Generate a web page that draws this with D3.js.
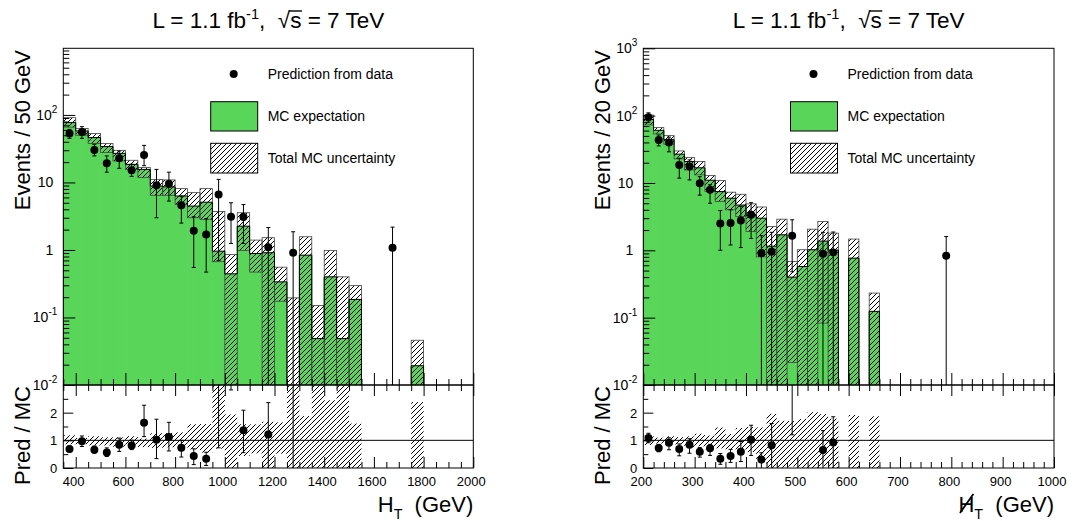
<!DOCTYPE html>
<html><head><meta charset="utf-8">
<script src="https://cdn.jsdelivr.net/npm/d3@7"></script>
<style>
body{margin:0;background:#fff}
svg{display:block}
text{font-family:"Liberation Sans",Arial,Helvetica,sans-serif;fill:#000}
</style>
</head><body>
<svg id="c" width="1072" height="521"></svg>
<script>
// ---------------- DATA : H_T (50 GeV bins, lower edges) ----------------
const htBins   = [350,400,450,500,550,600,650,700,750,800,850,900,950,1000,1050,1100,1150,1200,1250,1300,1350,1400,1450,1500,1550,1600,1650,1700,1750,1800];
const htMC     = [77,57.9,46.2,34,27,18.5,15.6,8.85,8.6,6.3,4.47,5.1,0.96,0.443,2.25,0.887,0.91,0.337,0.002,0.837,0.0487,0.4,0.0487,0.185,0,0,0,0,0.0193,0];
const htMCLo   = [66,50,37.7,27.7,20.8,15.6,11.8,6.45,6.45,4.73,3.0,2.84,0.67,0,0.98,0.47,0,0.174,0,0,0,0,0,0,0,0,0,0,0,0];
const htMCHi   = [91,62.8,53,37.7,29.9,21.3,16.6,11.1,10.9,8.1,7.06,8.1,3.7,0.857,3.56,1.4,1.52,0.556,0.195,1.57,0.15,0.98,0.4,0.297,0,0,0,0,0.046,0];
const htData   = [53,56,30.3,19.2,22.8,15.1,25.5,9.05,9.6,4.6,1.93,1.7,6.65,3.1,3.07,null,1.1,null,0.91,null,null,null,null,null,null,null,1.08,null,null,null];
const htDataLo = [45,45,24.7,14.2,16.2,12.3,17.7,3.0,5.3,2.5,0.55,0.47,0.7,1.25,1.25,null,0,null,0,null,null,null,null,null,null,null,0,null,null,null];
const htDataHi = [61,67,36.7,24.7,29.2,18.6,35.4,15.6,14.2,6.3,3.1,2.9,11.1,5.0,4.7,null,2.15,null,1.86,null,null,null,null,null,null,null,2.18,null,null,null];
const htTickLabels = [400,600,800,1000,1200,1400,1600,1800,2000];

// ---------------- DATA : missing H_T (20 GeV bins, lower edges) ----------------
const mhtBins   = [200,220,240,260,280,300,320,340,360,380,400,420,440,460,480,500,520,540,560,580,600,620,640,660,680,700,720,740,760,780,800];
const mhtMC     = [87.6,60.5,44,26.8,20.8,16.8,11,7.45,5.94,4.7,3.3,3.0,1.15,1.7,0.4,0.575,1.02,1.37,1.01,0,0.766,0,0.124,0,0,0,0,0,0,0,0];
const mhtMCLo   = [72.8,53.5,37.7,22.8,15.6,13.2,7.45,5.3,4.0,3.16,1.9,0.8,0,0,0.0216,0,0,0.083,0,0,0,0,0,0,0,0,0,0,0,0,0];
const mhtMCHi   = [102,66.4,50.5,29.9,23.8,20.8,12.9,10.9,7.3,6.8,4.9,4.4,2.25,2.9,0.68,1.02,2.06,2.67,1.8,0,1.47,0,0.232,0,0,0,0,0,0,0,0];
const mhtData   = [94.6,43.6,40,18.5,17.5,9.9,7.9,2.5,2.55,2.77,3.37,0.91,0.95,null,1.64,null,null,0.89,0.93,null,null,null,null,null,null,null,null,null,null,0.83,null];
const mhtDataLo = [80,35.5,29,11.8,11.1,6.6,5.0,1.0,1.2,1.1,1.5,0,0,null,0.48,null,null,0,0,null,null,null,null,null,null,null,null,null,null,0,null];
const mhtDataHi = [110,51.6,48,23.3,22,12.4,9.4,3.9,4.0,4.5,5.1,1.65,1.85,null,2.84,null,null,1.85,1.87,null,null,null,null,null,null,null,null,null,null,1.6,null];
const mhtTickLabels = [200,300,400,500,600,700,800,900,1000];

const ratioTickLabels = [0,1,2];
const legendLabels = ["Prediction from data","MC expectation","Total MC uncertainty"];
const titleRuns = [{t:"L = 1.1 fb"},{t:"-1",sup:true},{t:",  "},{t:"\u221A"},{t:"s"},{t:" = 7 TeV"}];

// ---------------- LAYOUT ----------------
const GREEN = "#59d559";
const mainTop = 48.3, mainBot = 385, ratBot = 468;
const svg = d3.select("#c");
const defs = svg.append("defs");
const pat = defs.append("pattern").attr("id","hatch").attr("patternUnits","userSpaceOnUse")
  .attr("width",5).attr("height",5);
pat.append("path").attr("d","M-1,1 L1,-1 M0,5 L5,0 M4,6 L6,4")
  .attr("stroke","#000").attr("stroke-width",1).attr("fill","none");

function runsText(parent, runs, x, y, size, anchor){
  const t = parent.append("text").attr("x",x).attr("y",y).attr("font-size",size)
    .attr("text-anchor",anchor).style("white-space","pre");
  let shift = 0;
  runs.forEach(r=>{
    const target = r.sup ? -size*0.42 : (r.sub ? size*0.3 : 0);
    const ts = t.append("tspan").text(r.t).attr("dy", target-shift);
    if(r.sup||r.sub) ts.attr("font-size", size*0.65);
    shift = target;
  });
  return t;
}

function drawPanel(cfg){
  const {id,x0,x1,xDomain,binW,yMax,bins,mc,lo,hi,data,dlo,dhi,xTicks,minorStep,yTitle,legX,slash} = cfg;
  const x = d3.scaleLinear().domain(xDomain).range([x0,x1]);
  const y = d3.scaleLog().domain([0.01,yMax]).range([mainBot,mainTop]);
  const yr = d3.scaleLinear().domain([0,3]).range([ratBot,mainBot]);
  const yc = v => (v>0 ? Math.min(y(v), mainBot+2) : mainBot+2);
  const g = svg.append("g");

  defs.append("clipPath").attr("id","cm"+id).append("rect")
    .attr("x",x0).attr("y",mainTop).attr("width",x1-x0).attr("height",mainBot-mainTop);
  defs.append("clipPath").attr("id","cr"+id).append("rect")
    .attr("x",x0).attr("y",mainBot).attr("width",x1-x0).attr("height",ratBot-mainBot);

  const gm = g.append("g").attr("clip-path",`url(#cm${id})`);
  const idx = bins.map((b,i)=>i);
  // green MC fill (slight overlap to avoid seams)
  gm.selectAll("rect.mc").data(idx.filter(i=>mc[i]>0.01)).join("rect").attr("class","mc")
    .attr("x",i=>x(bins[i])-0.3).attr("width",i=>x(bins[i]+binW)-x(bins[i])+0.6)
    .attr("y",i=>y(mc[i])).attr("height",i=>mainBot-y(mc[i])+2).attr("fill",GREEN);
  // hatched uncertainty band
  gm.selectAll("rect.band").data(idx.filter(i=>hi[i]>0)).join("rect").attr("class","band")
    .attr("x",i=>x(bins[i])).attr("width",i=>x(bins[i]+binW)-x(bins[i]))
    .attr("y",i=>y(hi[i])).attr("height",i=>yc(lo[i])-y(hi[i]))
    .attr("fill","url(#hatch)").attr("stroke","#444").attr("stroke-width",0.8);
  // MC outline
  let p = `M${x(bins[0])},${mainBot+2}`;
  idx.forEach(i=>{ p += `L${x(bins[i])},${yc(mc[i])}L${x(bins[i]+binW)},${yc(mc[i])}`; });
  p += `L${x(bins[bins.length-1]+binW)},${mainBot+2}`;
  gm.append("path").attr("d",p).attr("fill","none").attr("stroke","#000").attr("stroke-width",1);
  // data points
  const di = idx.filter(i=>data[i]!=null);
  di.forEach(i=>{
    const cx = x(bins[i]+binW/2);
    gm.append("line").attr("x1",cx).attr("x2",cx).attr("y1",yc(dlo[i])).attr("y2",y(dhi[i]))
      .attr("stroke","#000").attr("stroke-width",1);
    gm.append("line").attr("x1",cx-2).attr("x2",cx+2).attr("y1",y(dhi[i])).attr("y2",y(dhi[i])).attr("stroke","#000");
    if(dlo[i]>0.01) gm.append("line").attr("x1",cx-2).attr("x2",cx+2).attr("y1",y(dlo[i])).attr("y2",y(dlo[i])).attr("stroke","#000");
    gm.append("circle").attr("cx",cx).attr("cy",y(data[i])).attr("r",4).attr("fill","#000");
  });

  // ---- ratio panel ----
  const gr = g.append("g").attr("clip-path",`url(#cr${id})`);
  const clampR = v => Math.max(-0.1, Math.min(3.2, v));
  gr.selectAll("rect.rb").data(idx.filter(i=>mc[i]>0 && hi[i]>0)).join("rect").attr("class","rb")
    .attr("x",i=>x(bins[i])).attr("width",i=>x(bins[i]+binW)-x(bins[i]))
    .attr("y",i=>yr(clampR(hi[i]/mc[i])))
    .attr("height",i=>yr(clampR(lo[i]/mc[i]))-yr(clampR(hi[i]/mc[i])))
    .attr("fill","url(#hatch)");
  gr.append("line").attr("x1",x0).attr("x2",x1).attr("y1",yr(1)).attr("y2",yr(1))
    .attr("stroke","#000").attr("stroke-width",1);
  di.filter(i=>mc[i]>0).forEach(i=>{
    const cx = x(bins[i]+binW/2);
    const r = data[i]/mc[i], rl = dlo[i]/mc[i], rh = dhi[i]/mc[i];
    gr.append("line").attr("x1",cx).attr("x2",cx).attr("y1",yr(clampR(rl))).attr("y2",yr(clampR(rh)))
      .attr("stroke","#000").attr("stroke-width",1);
    if(rh<3) gr.append("line").attr("x1",cx-2).attr("x2",cx+2).attr("y1",yr(rh)).attr("y2",yr(rh)).attr("stroke","#000");
    if(rl>0.02) gr.append("line").attr("x1",cx-2).attr("x2",cx+2).attr("y1",yr(rl)).attr("y2",yr(rl)).attr("stroke","#000");
    if(r<3) gr.append("circle").attr("cx",cx).attr("cy",yr(r)).attr("r",4).attr("fill","#000");
  });

  // ---- axes ticks ----
  const minorX = d3.range(xDomain[0], xDomain[1]+0.001, minorStep).filter(v=>!xTicks.includes(v));
  const tk = (sel)=>{ sel.select(".domain").remove(); sel.selectAll("line").attr("stroke","#000"); };
  g.append("g").attr("transform",`translate(0,${mainBot})`).call(d3.axisBottom(x).tickValues(xTicks).tickSize(-12).tickFormat("")).call(tk);
  g.append("g").attr("transform",`translate(0,${mainBot})`).call(d3.axisBottom(x).tickValues(minorX).tickSize(-6).tickFormat("")).call(tk);
  g.append("g").attr("transform",`translate(0,${ratBot})`).call(d3.axisBottom(x).tickValues(xTicks).tickSize(-11).tickFormat("")).call(tk);
  g.append("g").attr("transform",`translate(0,${ratBot})`).call(d3.axisBottom(x).tickValues(minorX).tickSize(-6).tickFormat("")).call(tk);
  g.append("g").attr("transform",`translate(0,${mainBot})`).call(d3.axisTop(x).tickValues(xTicks).tickSize(-11).tickFormat("")).call(tk);
  g.append("g").attr("transform",`translate(0,${mainBot})`).call(d3.axisTop(x).tickValues(minorX).tickSize(-6).tickFormat("")).call(tk);
  const decs = [-2,-1,0,1,2,3].filter(e=>Math.pow(10,e)<=yMax*1.0001);
  const minorY = [];
  [-2,-1,0,1,2].forEach(e=>{ for(let m=2;m<10;m++){ const v=m*Math.pow(10,e); if(v<yMax) minorY.push(v);} });
  g.append("g").attr("transform",`translate(${x0},0)`).call(d3.axisLeft(y).tickValues(decs.map(e=>Math.pow(10,e))).tickSize(-12).tickFormat("")).call(tk);
  g.append("g").attr("transform",`translate(${x0},0)`).call(d3.axisLeft(y).tickValues(minorY).tickSize(-6).tickFormat("")).call(tk);
  g.append("g").attr("transform",`translate(${x0},0)`).call(d3.axisLeft(yr).tickValues([0,1,2,3]).tickSize(-10).tickFormat("")).call(tk);
  g.append("g").attr("transform",`translate(${x0},0)`).call(d3.axisLeft(yr).tickValues([0.5,1.5,2.5]).tickSize(-5).tickFormat("")).call(tk);

  // frames
  g.append("rect").attr("x",x0).attr("y",mainTop).attr("width",x1-x0).attr("height",mainBot-mainTop)
    .attr("fill","none").attr("stroke","#000").attr("stroke-width",1);
  g.append("rect").attr("x",x0).attr("y",mainBot).attr("width",x1-x0).attr("height",ratBot-mainBot)
    .attr("fill","none").attr("stroke","#000").attr("stroke-width",1);

  // tick labels
  decs.forEach(e=>{
    const yy = y(Math.pow(10,e))+5;
    if(e===0 || e===1){
      g.append("text").attr("x",x0-10).attr("y",yy).attr("text-anchor","end").attr("font-size",14).text(e===0?"1":"10");
    } else {
      const t = g.append("text").attr("x",x0-6).attr("y",yy).attr("text-anchor","end").attr("font-size",14);
      t.append("tspan").text("10");
      t.append("tspan").attr("dy",-7).attr("font-size",10).text(String(e));
    }
  });
  ratioTickLabels.forEach(v=>{
    g.append("text").attr("x",x0-6).attr("y",yr(v)+5).attr("text-anchor","end").attr("font-size",13).text(v);
  });
  xTicks.forEach(v=>{
    g.append("text").attr("x",x(v)-2).attr("y",486).attr("text-anchor","middle").attr("font-size",13).text(v);
  });

  // axis titles
  g.append("text").attr("transform",`translate(${x0-33},50) rotate(-90)`).attr("text-anchor","end")
    .attr("font-size",22).text(yTitle);
  g.append("text").attr("transform",`translate(${x0-33},386) rotate(-90)`).attr("text-anchor","end")
    .attr("font-size",22).text("Pred / MC");
  const xt = runsText(g,[{t:"H"},{t:"T",sub:true},{t:"  (GeV)"}], x1, 512, 22, "end");
  if(slash){
    const e = xt.node().getExtentOfChar(0);
    g.append("line").attr("x1",e.x+1.5).attr("y1",513).attr("x2",e.x+e.width-1).attr("y2",494)
      .attr("stroke","#000").attr("stroke-width",1.8);
  }

  // title
  const tt = runsText(g, titleRuns, (x0+x1)/2, 28, 22.5, "middle");
  const sIdx = 16, rIdx = 15;
  const er = tt.node().getExtentOfChar(rIdx), es = tt.node().getExtentOfChar(sIdx);
  g.append("line").attr("x1",er.x+er.width-1).attr("x2",es.x+es.width+0.5)
    .attr("y1",28-17).attr("y2",28-17).attr("stroke","#000").attr("stroke-width",1.4);

  // legend
  g.append("circle").attr("cx",legX+23).attr("cy",74).attr("r",4).attr("fill","#000");
  g.append("rect").attr("x",legX).attr("y",101.7).attr("width",47).attr("height",29.3)
    .attr("fill",GREEN).attr("stroke","#000").attr("stroke-width",1);
  g.append("rect").attr("x",legX).attr("y",143.3).attr("width",47).attr("height",29.7)
    .attr("fill","url(#hatch)").attr("stroke","#000").attr("stroke-width",1);
  [79,121,163].forEach((yy,k)=>{
    g.append("text").attr("x",legX+57).attr("y",yy).attr("font-size",14).text(legendLabels[k]);
  });
}

drawPanel({id:"L",x0:63.3,x1:473.3,xDomain:[350,2000],binW:50,yMax:970,
  bins:htBins,mc:htMC,lo:htMCLo,hi:htMCHi,data:htData,dlo:htDataLo,dhi:htDataHi,
  xTicks:htTickLabels,minorStep:50,yTitle:"Events / 50 GeV",legX:210.7,slash:false});
drawPanel({id:"R",x0:643.3,x1:1054,xDomain:[200,1000],binW:20,yMax:1000,
  bins:mhtBins,mc:mhtMC,lo:mhtMCLo,hi:mhtMCHi,data:mhtData,dlo:mhtDataLo,dhi:mhtDataHi,
  xTicks:mhtTickLabels,minorStep:20,yTitle:"Events / 20 GeV",legX:790.5,slash:true});
</script>
</body></html>
